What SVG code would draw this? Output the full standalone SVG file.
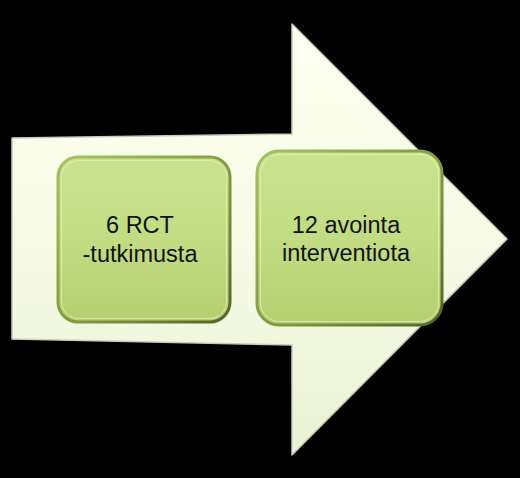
<svg xmlns="http://www.w3.org/2000/svg" width="520" height="478" viewBox="0 0 520 478">
  <defs>
    <linearGradient id="arrowFill" x1="0" y1="0" x2="0" y2="1">
      <stop offset="0" stop-color="#fefff1"/>
      <stop offset="0.5" stop-color="#f8fbe6"/>
      <stop offset="1" stop-color="#e9f2d4"/>
    </linearGradient>
    <linearGradient id="boxFill" x1="0" y1="0" x2="0" y2="1">
      <stop offset="0" stop-color="#cae38f"/>
      <stop offset="0.5" stop-color="#c2dc83"/>
      <stop offset="1" stop-color="#b4cf6f"/>
    </linearGradient>
    <linearGradient id="boxEdge" x1="0" y1="0" x2="1" y2="1">
      <stop offset="0" stop-color="#a9c163"/>
      <stop offset="0.6" stop-color="#7f943f"/>
      <stop offset="1" stop-color="#56632a"/>
    </linearGradient>
    <style>
      .label { font-family: "Liberation Sans", Arial, sans-serif; font-size: 23.5px; fill: #111; text-anchor: middle; }
      .box { fill: url(#boxFill); stroke: url(#boxEdge); stroke-width: 3; }
      .hi { fill: none; stroke: #e6f3c2; stroke-opacity: 0.7; stroke-width: 1; }
    </style>
  </defs>
  <rect width="520" height="478" fill="#000"/>
  <g id="arrow">
    <polygon points="12,138 292,134 292,24 507,239 292,455 292,345 12,339" fill="url(#arrowFill)" stroke="#c9ccbc" stroke-width="1.5" stroke-linejoin="round"/>
  </g>
  <g id="connectors"></g>
  <g id="node1">
    <rect class="box" x="58" y="157" width="172" height="165" rx="20"/>
    <rect class="hi" x="61.5" y="160.5" width="165" height="158" rx="17"/>
    <text class="label" x="140" y="233">6 RCT</text>
    <text class="label" x="140" y="262">-tutkimusta</text>
  </g>
  <g id="node2">
    <rect class="box" x="257" y="151" width="185" height="174" rx="22"/>
    <rect class="hi" x="260.5" y="154.5" width="178" height="167" rx="19"/>
    <text class="label" x="346" y="233">12 avointa</text>
    <text class="label" x="346" y="261">interventiota</text>
  </g>
</svg>
